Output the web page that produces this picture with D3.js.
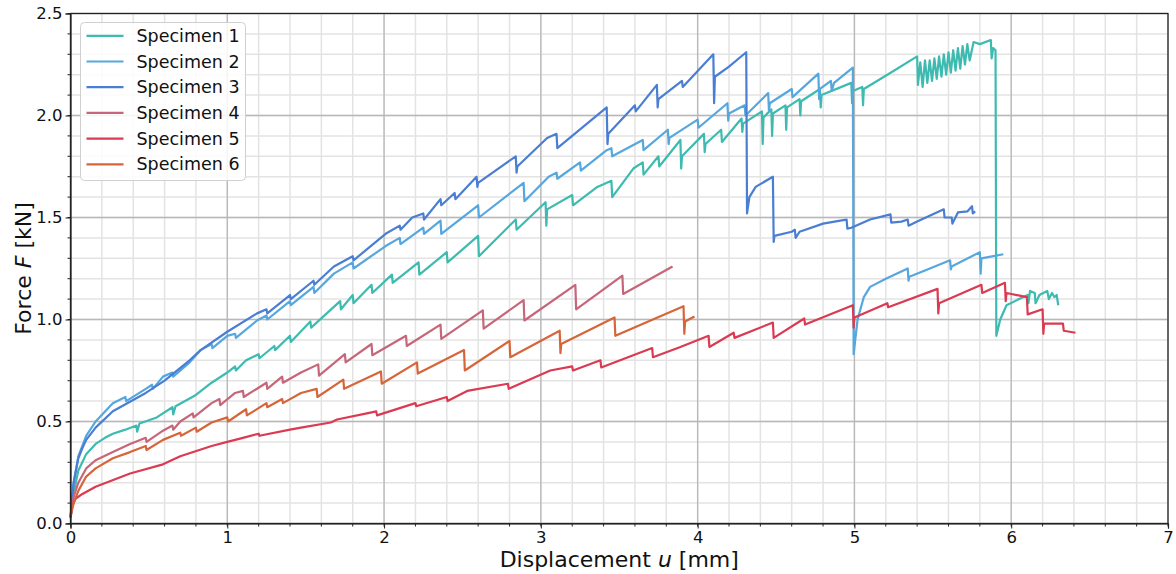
<!doctype html>
<html>
    <head>
        <title>Force vs displacement</title>
        <style>
            body {
                margin: 0;
                overflow: hidden;
                background: #fff;
            }
            text {
                font-family: 'DejaVu Sans', sans-serif;
            }
        </style>
    </head>
    <body>
        <script src="https://cdn.jsdelivr.net/npm/d3@7"></script>
        <script>

            // names + colours of the six specimens
            const names = ['Specimen 1', 'Specimen 2', 'Specimen 3', 'Specimen 4', 'Specimen 5', 'Specimen 6'];
            const colors = ['#3dbbb0', '#55a7de', '#4a7ed3', '#c6667a', '#da3a52', '#d6663a'];

            // [u (mm), F (kN)]
            const spec1 = [[0,0.03],[0.02,0.15],[0.05,0.26],[0.1,0.34],[0.16,0.39],[0.22,0.42],[0.27,0.44],[0.35,0.46],[0.42,0.48],[0.425,0.45],[0.44,0.49],[0.55,0.52],[0.65,0.57],[0.655,0.535],[0.67,0.575],
                [0.8,0.63],[0.9,0.69],[1.0,0.74],[1.05,0.77],[1.055,0.75],[1.12,0.80],[1.2,0.83],[1.205,0.81],[1.3,0.87],[1.305,0.85],[1.4,0.92],[1.405,0.89],[1.53,0.99],[1.535,0.96],
                [1.72,1.09],[1.725,1.05],[1.80,1.12],[1.805,1.08],[1.92,1.17],[1.925,1.13],[2.05,1.22],[2.055,1.18],[2.22,1.28],[2.225,1.22],[2.40,1.33],[2.405,1.28],[2.60,1.41],[2.605,1.31],
                [2.84,1.49],[2.845,1.44],[3.03,1.575],[3.035,1.46],[3.04,1.54],[3.2,1.61],[3.205,1.56],[3.36,1.65],[3.45,1.68],[3.455,1.60],[3.59,1.74],[3.65,1.77],[3.655,1.71],[3.75,1.80],[3.755,1.75],
                [3.89,1.88],[3.895,1.74],[3.9,1.80],[4.04,1.91],[4.045,1.82],[4.05,1.86],[4.15,1.93],[4.155,1.87],[4.28,1.985],[4.285,1.92],[4.29,1.96],[4.41,2.02],[4.415,1.86],[4.42,1.99],[4.47,2.03],[4.475,1.90],
                [4.48,2.01],[4.56,2.05],[4.565,1.93],[4.57,2.04],[4.65,2.08],[4.655,2.0],[4.66,2.07],[4.78,2.13],[4.785,2.04],[4.79,2.10],[4.98,2.16],[4.985,2.06],[4.99,2.12],[5.05,2.14],[5.055,2.05],[5.06,2.13],
                [5.21,2.2],[5.40,2.29],[5.405,2.15],[5.42,2.26],[5.435,2.14],[5.45,2.27],[5.465,2.16],[5.48,2.27],[5.495,2.17],[5.51,2.28],[5.525,2.18],[5.54,2.29],[5.555,2.19],[5.57,2.30],[5.585,2.20],
                [5.60,2.31],[5.615,2.21],[5.63,2.32],[5.645,2.22],[5.66,2.33],[5.675,2.23],[5.69,2.34],[5.705,2.25],[5.72,2.35],[5.735,2.27],[5.76,2.36],[5.80,2.35],[5.87,2.37],[5.875,2.28],[5.885,2.33],[5.9,2.32],
                [5.905,0.92],[5.93,1.0],[5.97,1.07],[6.05,1.10],[6.105,1.12],[6.11,1.08],[6.12,1.14],[6.15,1.13],[6.155,1.08],[6.18,1.12],[6.23,1.14],[6.24,1.10],[6.26,1.13],[6.275,1.11],[6.29,1.12],[6.3,1.07]];

            const spec2 = [[0,0.03],[0.02,0.2],[0.05,0.33],[0.1,0.43],[0.16,0.50],[0.27,0.59],[0.35,0.62],[0.355,0.60],[0.48,0.66],[0.52,0.68],[0.525,0.66],[0.59,0.72],[0.65,0.74],[0.655,0.72],[0.76,0.79],
                [0.83,0.85],[0.9,0.88],[0.905,0.86],[1.0,0.92],[1.05,0.93],[1.055,0.91],[1.19,0.995],[1.25,1.02],[1.255,1.0],[1.4,1.09],[1.405,1.07],[1.55,1.16],[1.555,1.13],[1.68,1.225],[1.8,1.28],[1.805,1.25],
                [2.01,1.36],[2.1,1.40],[2.105,1.37],[2.25,1.45],[2.255,1.42],[2.36,1.485],[2.365,1.42],[2.6,1.56],[2.605,1.50],[2.89,1.67],[2.895,1.58],[3.05,1.70],[3.1,1.72],[3.105,1.69],[3.25,1.77],[3.255,1.73],
                [3.42,1.83],[3.45,1.84],[3.455,1.80],[3.65,1.88],[3.655,1.83],[3.81,1.93],[3.815,1.86],[3.82,1.89],[4.0,1.98],[4.005,1.94],[4.19,2.06],[4.195,1.975],[4.2,2.01],[4.3,2.05],[4.305,2.0],
                [4.45,2.11],[4.455,2.02],[4.46,2.06],[4.6,2.13],[4.605,2.09],[4.77,2.205],[4.775,2.08],[4.78,2.13],[4.85,2.17],[4.855,2.12],[4.87,2.16],[4.99,2.235],[4.995,0.83],[5.02,1.0],[5.06,1.11],
                [5.1,1.16],[5.2,1.20],[5.34,1.25],[5.345,1.19],[5.35,1.21],[5.45,1.24],[5.61,1.29],[5.615,1.245],[5.62,1.26],[5.8,1.33],[5.805,1.225],[5.81,1.30],[5.95,1.32]];

            const spec3 = [[0,0.03],[0.02,0.2],[0.05,0.32],[0.076,0.37],[0.1,0.41],[0.16,0.47],[0.27,0.55],[0.48,0.64],[0.6,0.70],[0.76,0.80],[0.83,0.85],[1.0,0.94],[1.19,1.03],[1.25,1.05],[1.255,1.03],
                [1.4,1.12],[1.405,1.10],[1.55,1.19],[1.555,1.17],[1.68,1.26],[1.8,1.31],[1.805,1.29],[2.01,1.42],[2.1,1.46],[2.105,1.44],[2.18,1.5],[2.25,1.52],[2.255,1.49],[2.36,1.59],[2.365,1.56],
                [2.45,1.62],[2.455,1.59],[2.59,1.70],[2.595,1.65],[2.6,1.67],[2.84,1.80],[2.845,1.72],[2.85,1.75],[3.04,1.89],[3.10,1.91],[3.105,1.84],[3.2,1.90],[3.42,2.04],[3.425,1.86],[3.43,1.91],
                [3.6,2.05],[3.605,2.02],[3.74,2.15],[3.745,2.04],[3.75,2.08],[3.9,2.17],[3.905,2.14],[4.10,2.30],[4.105,2.06],[4.11,2.19],[4.2,2.24],[4.31,2.31],[4.315,1.52],[4.33,1.60],[4.37,1.65],
                [4.48,1.70],[4.485,1.38],[4.49,1.41],[4.6,1.43],[4.62,1.44],[4.625,1.40],[4.65,1.43],[4.8,1.47],[4.91,1.485],[4.95,1.49],[4.955,1.445],[4.98,1.45],[5.1,1.49],[5.23,1.515],[5.235,1.475],
                [5.3,1.48],[5.34,1.49],[5.345,1.46],[5.4,1.48],[5.57,1.54],[5.575,1.50],[5.62,1.50],[5.625,1.47],[5.66,1.525],[5.72,1.53],[5.75,1.555],[5.755,1.52],[5.77,1.53]];

            const spec4 = [[0,0.03],[0.02,0.13],[0.05,0.2],[0.1,0.27],[0.16,0.31],[0.27,0.35],[0.38,0.39],[0.48,0.42],[0.485,0.40],[0.59,0.455],[0.65,0.48],[0.655,0.46],[0.7,0.50],[0.78,0.54],[0.785,0.52],
                [0.9,0.59],[0.95,0.61],[0.955,0.58],[1.05,0.64],[1.1,0.65],[1.105,0.62],[1.25,0.69],[1.255,0.66],[1.35,0.72],[1.355,0.69],[1.47,0.74],[1.58,0.78],[1.585,0.725],[1.75,0.83],[1.755,0.79],
                [1.92,0.88],[1.925,0.825],[2.14,0.92],[2.145,0.87],[2.36,0.975],[2.365,0.905],[2.63,1.045],[2.635,0.955],[2.89,1.095],[2.895,0.995],[3.22,1.17],[3.225,1.05],[3.52,1.215],[3.525,1.125],[3.84,1.26]];

            const spec5 = [[0,0.03],[0.01,0.08],[0.03,0.12],[0.076,0.145],[0.16,0.18],[0.38,0.245],[0.59,0.29],[0.7,0.33],[0.9,0.38],[1.0,0.40],[1.1,0.42],[1.2,0.44],[1.205,0.43],[1.4,0.46],[1.47,0.47],
                [1.66,0.495],[1.7,0.51],[1.89,0.54],[1.95,0.55],[1.955,0.53],[2.2,0.59],[2.205,0.575],[2.4,0.62],[2.405,0.60],[2.53,0.65],[2.79,0.685],[2.795,0.66],[3.06,0.75],[3.2,0.77],[3.205,0.75],
                [3.38,0.80],[3.385,0.765],[3.71,0.86],[3.715,0.815],[3.89,0.865],[4.07,0.92],[4.075,0.865],[4.23,0.935],[4.235,0.91],[4.48,0.985],[4.485,0.91],[4.68,1.005],[4.685,0.975],[4.99,1.07],
                [4.995,0.96],[5.0,1.01],[5.21,1.08],[5.215,1.06],[5.53,1.15],[5.535,1.03],[5.54,1.08],[5.81,1.17],[5.815,1.13],[5.96,1.18],[5.965,1.09],[5.97,1.13],[6.1,1.11],[6.105,1.025],[6.2,1.05],
                [6.205,0.93],[6.21,0.98],[6.33,0.98],[6.335,0.945],[6.41,0.935]];

            const spec6 = [[0,0.03],[0.02,0.1],[0.05,0.16],[0.1,0.23],[0.16,0.27],[0.27,0.32],[0.38,0.35],[0.48,0.38],[0.485,0.36],[0.59,0.41],[0.7,0.445],[0.705,0.43],[0.8,0.47],[0.805,0.45],[0.9,0.495],
                [1.0,0.52],[1.005,0.50],[1.12,0.56],[1.125,0.53],[1.25,0.59],[1.255,0.57],[1.35,0.61],[1.355,0.59],[1.47,0.64],[1.57,0.66],[1.575,0.62],[1.74,0.705],[1.745,0.66],[1.98,0.745],[1.985,0.685],
                [2.21,0.79],[2.215,0.735],[2.51,0.85],[2.515,0.75],[2.80,0.895],[2.805,0.815],[3.12,0.945],[3.125,0.835],[3.13,0.88],[3.47,1.01],[3.475,0.92],[3.91,1.065],[3.915,0.93],[3.92,0.99],[3.98,1.015]];

            const series = [spec1, spec2, spec3, spec4, spec5, spec6];

            const xTicks = [0, 1, 2, 3, 4, 5, 6, 7];
            const yTicks = [0, 0.5, 1.0, 1.5, 2.0, 2.5];

            const width = 1176;
            const height = 574;
            const m = {left: 70.5, right: 8, top: 13.5, bottom: 50.5};

            const svg = d3.select('body')
                .append('svg')
                .attr('width', width)
                .attr('height', height);

            const x = d3.scaleLinear().domain([0, 7]).range([m.left, width - m.right]);
            const y = d3.scaleLinear().domain([0, 2.5]).range([height - m.bottom, m.top]);

            // grid: minor first, then major
            const g = svg.append('g');
            g.selectAll('.vminor').data(d3.range(0, 7.001, 0.2))
                .join('line')
                .attr('x1', d => x(d)).attr('x2', d => x(d))
                .attr('y1', y(0)).attr('y2', y(2.5))
                .attr('stroke', '#e3e3e3').attr('stroke-width', 1.5);
            g.selectAll('.hminor').data(d3.range(0, 2.501, 0.1))
                .join('line')
                .attr('y1', d => y(d)).attr('y2', d => y(d))
                .attr('x1', x(0)).attr('x2', x(7))
                .attr('stroke', '#e3e3e3').attr('stroke-width', 1.5);
            g.selectAll('.vmajor').data(xTicks)
                .join('line')
                .attr('x1', d => x(d)).attr('x2', d => x(d))
                .attr('y1', y(0)).attr('y2', y(2.5))
                .attr('stroke', '#b8b8b8').attr('stroke-width', 1.3);
            g.selectAll('.hmajor').data(yTicks)
                .join('line')
                .attr('y1', d => y(d)).attr('y2', d => y(d))
                .attr('x1', x(0)).attr('x2', x(7))
                .attr('stroke', '#b8b8b8').attr('stroke-width', 1.3);

            const line = d3.line().x(d => x(d[0])).y(d => y(d[1]));

            svg.append('g').selectAll('path')
                .data(series)
                .join('path')
                .attr('d', line)
                .attr('fill', 'none')
                .attr('stroke', (d, i) => colors[i])
                .attr('stroke-width', 2.2)
                .attr('stroke-linejoin', 'round');

            // axes
            const xAxis = d3.axisBottom(x).tickValues(xTicks).tickFormat(d3.format('d')).tickSize(5).tickPadding(3);
            const yAxis = d3.axisLeft(y).tickValues(yTicks).tickFormat(d3.format('.1f')).tickSize(5).tickPadding(3);

            const xa = svg.append('g').attr('transform', `translate(0,${y(0)})`).call(xAxis);
            const ya = svg.append('g').attr('transform', `translate(${x(0)},0)`).call(yAxis);
            [xa, ya].forEach(a => {
                a.selectAll('text').attr('font-size', 16.5).attr('fill', '#111').attr('font-family', 'DejaVu Sans');
                a.selectAll('line').attr('stroke', '#222').attr('stroke-width', 1);
                a.select('.domain').attr('stroke', '#222').attr('stroke-width', 1.2);
            });

            // minor ticks
            svg.append('g').selectAll('line').data(d3.range(0, 7.001, 0.2))
                .join('line')
                .attr('x1', d => x(d)).attr('x2', d => x(d))
                .attr('y1', y(0)).attr('y2', y(0) + 3)
                .attr('stroke', '#222');
            svg.append('g').selectAll('line').data(d3.range(0, 2.501, 0.1))
                .join('line')
                .attr('y1', d => y(d)).attr('y2', d => y(d))
                .attr('x1', x(0)).attr('x2', x(0) - 3)
                .attr('stroke', '#222');

            // top + right spines
            svg.append('rect')
                .attr('x', x(0)).attr('y', y(2.5))
                .attr('width', x(7) - x(0)).attr('height', y(0) - y(2.5))
                .attr('fill', 'none').attr('stroke', '#222').attr('stroke-width', 1.2);

            // axis labels
            const xl = svg.append('text')
                .attr('x', (x(0) + x(7)) / 2).attr('y', 567)
                .attr('text-anchor', 'middle').attr('font-size', 22).attr('fill', '#111');
            xl.append('tspan').text('Displacement ');
            xl.append('tspan').attr('font-style', 'italic').text('u');
            xl.append('tspan').text(' [mm]');

            const yl = svg.append('text')
                .attr('transform', `translate(31,${(y(0) + y(2.5)) / 2}) rotate(-90)`)
                .attr('text-anchor', 'middle').attr('font-size', 22).attr('fill', '#111');
            yl.append('tspan').text('Force ');
            yl.append('tspan').attr('font-style', 'italic').text('F');
            yl.append('tspan').text(' [kN]');

            // legend
            const lg = svg.append('g').attr('transform', 'translate(80.5,22.5)');
            lg.append('rect')
                .attr('width', 165).attr('height', 158).attr('rx', 4)
                .attr('fill', 'rgba(255,255,255,0.85)').attr('stroke', '#d0d0d0');
            const rows = lg.selectAll('g.row').data(names)
                .join('g')
                .attr('transform', (d, i) => `translate(0,${13.3 + i * 25.7})`);
            rows.append('line')
                .attr('x1', 6).attr('x2', 43)
                .attr('stroke', (d, i) => colors[i]).attr('stroke-width', 2.2);
            rows.append('text')
                .attr('x', 56).attr('dy', '0.35em')
                .attr('font-size', 17.5).attr('fill', '#111')
                .text(d => d);

        </script>
    </body>
</html>
